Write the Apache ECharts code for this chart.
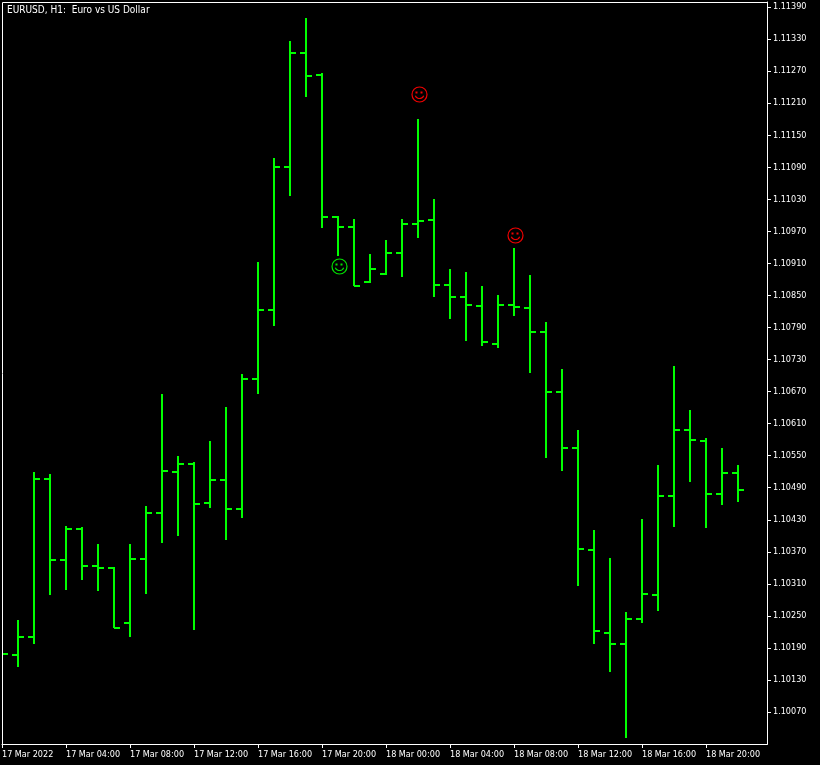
<!DOCTYPE html>
<html>
<head>
<meta charset="utf-8">
<style>html,body{margin:0;padding:0;background:#000}#c{width:820px;height:765px}</style>
<script src="https://cdn.jsdelivr.net/npm/echarts@6/dist/echarts.min.js"></script>
</head>
<body>
<div id="c"></div>
<script>
const titleText = 'EURUSD, H1:  Euro vs US Dollar';
const timeLabels = ['17 Mar 2022','17 Mar 04:00','17 Mar 08:00','17 Mar 12:00','17 Mar 16:00','17 Mar 20:00','18 Mar 00:00','18 Mar 04:00','18 Mar 08:00','18 Mar 12:00','18 Mar 16:00','18 Mar 20:00'];
const priceTicks = [1.1139,1.1133,1.1127,1.1121,1.1115,1.1109,1.1103,1.1097,1.1091,1.1085,1.1079,1.1073,1.1067,1.1061,1.1055,1.1049,1.1043,1.1037,1.1031,1.1025,1.1019,1.1013,1.1007];
const opens = [1.10181,1.10176,1.10210,1.10507,1.10354,1.10412,1.10344,1.10339,1.10236,1.10356,1.10442,1.10520,1.10535,1.10462,1.10505,1.10451,1.10694,1.10822,1.11091,1.11303,1.11262,1.10996,1.10979,1.10875,1.10891,1.10929,1.10983,1.10992,1.10869,1.10848,1.10831,1.10760,1.10833,1.10827,1.10781,1.10670,1.10565,1.10374,1.10219,1.10198,1.10245,1.10290,1.10474,1.10599,1.10578,1.10479,1.10517];
const highs = [1.10187,1.10243,1.10519,1.10515,1.10419,1.10416,1.10384,1.10341,1.10384,1.10455,1.10666,1.10550,1.10539,1.10578,1.10642,1.10702,1.10912,1.11108,1.11327,1.11370,1.11267,1.10998,1.10994,1.10927,1.10953,1.10994,1.11181,1.11031,1.10899,1.10893,1.10867,1.10850,1.10938,1.10889,1.10801,1.10713,1.10599,1.10410,1.10358,1.10258,1.10432,1.10532,1.10717,1.10636,1.10584,1.10565,1.10533];
const lows = [1.10169,1.10155,1.10197,1.10290,1.10298,1.10318,1.10296,1.10227,1.10211,1.10292,1.10387,1.10399,1.10223,1.10453,1.10393,1.10434,1.10665,1.10792,1.11037,1.11222,1.10977,1.10923,1.10867,1.10874,1.10889,1.10884,1.10957,1.10848,1.10805,1.10764,1.10756,1.10751,1.10812,1.10704,1.10545,1.10522,1.10307,1.10198,1.10146,1.10022,1.10236,1.10260,1.10416,1.10500,1.10414,1.10457,1.10464];
const closes = [1.10178,1.10210,1.10507,1.10354,1.10412,1.10344,1.10339,1.10228,1.10356,1.10442,1.10522,1.10535,1.10460,1.10504,1.10451,1.10694,1.10822,1.11091,1.11303,1.11260,1.10996,1.10979,1.10867,1.10900,1.10929,1.10983,1.10990,1.10870,1.10848,1.10833,1.10762,1.10833,1.10829,1.10781,1.10670,1.10565,1.10376,1.10221,1.10198,1.10245,1.10292,1.10474,1.10599,1.10580,1.10479,1.10517,1.10485];
const sellBars = [26,32];
const sellPrices = [1.11228,1.10964];
const buyBars = [21];
const buyPrices = [1.10906];

const barData = opens.map((o,i)=>[i,o,highs[i],lows[i],closes[i]]);
const gridLeft=2, gridTop=2, gridW=765, gridH=742, barStep=16;
const yMin=1.100103, yMax=1.113993;
const font='"DejaVu Sans Condensed","Liberation Sans",sans-serif';

function renderBar(params,api){
  const i=api.value(0);
  const x=Math.round(api.coord([i,api.value(1)])[0]);
  const yy=k=>Math.round(api.coord([i,api.value(k)])[1]);
  const st={stroke:'#00ff00',lineWidth:2,fill:null};
  const L=(x1,y1,x2,y2)=>({type:'line',shape:{x1,y1,x2,y2},style:st});
  return {type:'group',children:[
    L(x,yy(2),x,yy(3)),
    L(x-6,yy(1),x,yy(1)),
    L(x,yy(4),x+6,yy(4))
  ]};
}
function renderSmiley(color){
  return function(params,api){
    const c=api.coord([api.value(0),api.value(1)]);
    const cx=Math.round(c[0])+1.5, cy=Math.round(c[1])+0.5;
    const st={stroke:color,lineWidth:1.2,fill:null};
    const dot={fill:color};
    return {type:'group',children:[
      {type:'circle',shape:{cx,cy,r:7.5},style:st},
      {type:'rect',shape:{x:cx-4,y:cy-3,width:2,height:2},style:dot},
      {type:'rect',shape:{x:cx+1,y:cy-3,width:2,height:2},style:dot},
      {type:'arc',shape:{cx,cy:cy-0.5,r:4.5,startAngle:Math.PI*0.12,endAngle:Math.PI*0.88,clockwise:true},style:st}
    ]};
  };
}
const chart=echarts.init(document.getElementById('c'),null,{renderer:'canvas'});
chart.setOption({
  animation:false,
  backgroundColor:'#000',
  title:{text:titleText,left:7,top:5,padding:0,textStyle:{color:'#fff',fontFamily:font,fontSize:10,fontWeight:'normal'}},
  grid:{left:gridLeft,top:gridTop,width:gridW,height:gridH,show:false,outerBoundsMode:'none'},
  xAxis:{type:'value',min:0,max:gridW/barStep,splitLine:{show:false},
    axisLine:{show:true,onZero:false,lineStyle:{color:'#fff',width:1}},
    axisTick:{show:true,length:4,lineStyle:{color:'#fff',width:1},customValues:timeLabels.map((_,k)=>k*4)},
    axisLabel:{color:'#fff',fontFamily:font,fontSize:9,align:'left',margin:6,showMinLabel:true,showMaxLabel:true,
      customValues:timeLabels.map((_,k)=>k*4),formatter:v=>timeLabels[Math.round(v/4)]||''}},
  yAxis:{type:'value',position:'right',min:yMin,max:yMax,scale:true,splitLine:{show:false},
    axisLine:{show:true,onZero:false,lineStyle:{color:'#fff',width:1}},
    axisTick:{show:true,length:4,lineStyle:{color:'#fff',width:1},customValues:priceTicks},
    axisLabel:{color:'#fff',fontFamily:font,fontSize:9,margin:6,padding:[3,0,0,0],showMinLabel:true,showMaxLabel:true,customValues:priceTicks,formatter:v=>v.toFixed(5)}},
  graphic:[{type:'rect',silent:true,z:100,shape:{x:gridLeft+0.5,y:gridTop+0.5,width:gridW,height:gridH},style:{fill:null,stroke:'#fff',lineWidth:1}}],
  series:[
    {type:'custom',name:'EURUSD',renderItem:renderBar,data:barData,encode:{x:0,y:[1,2,3,4]},clip:true,z:2},
    {type:'custom',name:'Sell',renderItem:renderSmiley('#f00000'),data:sellBars.map((b,i)=>[b,sellPrices[i]]),encode:{x:0,y:1},z:3},
    {type:'custom',name:'Buy',renderItem:renderSmiley('#00e000'),data:buyBars.map((b,i)=>[b,buyPrices[i]]),encode:{x:0,y:1},z:3}
  ]
});
</script>
</body>
</html>
